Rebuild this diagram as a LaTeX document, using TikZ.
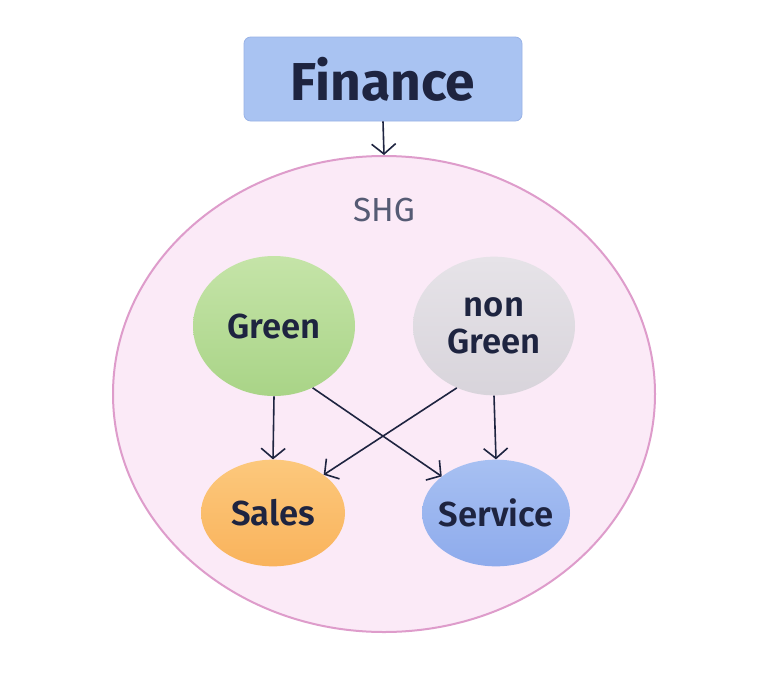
\documentclass[tikz,border=0pt]{standalone}
\usepackage{fontspec}
\setmainfont{Fira Sans}
\newfontfamily\semifont{Fira Sans SemiBold}
\usetikzlibrary{arrows.meta,shapes.geometric}
\definecolor{ink}{HTML}{1E2440}
\definecolor{finfill}{HTML}{A9C3F2}
\definecolor{finedge}{HTML}{98B2E6}
\definecolor{shgfill}{HTML}{FBEAF7}
\definecolor{shgedge}{HTML}{DE9CCB}
\definecolor{shgtext}{HTML}{555B74}
\definecolor{greentop}{HTML}{C5E4A8}
\definecolor{greenbot}{HTML}{A9D487}
\definecolor{graytop}{HTML}{E6E3E8}
\definecolor{graybot}{HTML}{D8D4DB}
\definecolor{salestop}{HTML}{FCC87C}
\definecolor{salesbot}{HTML}{F9B35C}
\definecolor{servtop}{HTML}{A7C0F2}
\definecolor{servbot}{HTML}{8EABEC}
\begin{document}
\begin{tikzpicture}[x=0.75pt,y=-0.75pt,
  bubble/.style={ellipse, draw=none, inner sep=0pt},
  btext/.style={font=\semifont\fontsize{26}{28}\selectfont, text=ink, align=center, inner sep=0pt},
  link/.style={draw=ink, line width=1.2pt, -{Straight Barb[length=7.5pt,width=18pt,line width=1.2pt]}}]
\useasboundingbox (0,0) rectangle (768,690);
\fill[white] (0,0) rectangle (768,690);
\node[rectangle, rounded corners=5pt, fill=finfill, draw=finedge, line width=0.6pt,
  minimum width=208.5pt, minimum height=63pt, inner sep=0pt, text=ink,
  font=\bfseries\fontsize{40}{42}\selectfont] (fin) at (383,79) {Finance};
\node[ellipse, fill=shgfill, draw=shgedge, line width=1.5pt,
  minimum width=406.5pt, minimum height=357pt, inner sep=0pt] (shg) at (384,394) {};
\node[text=shgtext, font=\fontsize{25}{27}\selectfont] (shglabel) at (384,210) {SHG};
\node[bubble, top color=greentop, bottom color=greenbot, minimum width=121.5pt, minimum height=105pt] (green) at (274,326) {};
\node[btext] (greenlabel) at (green.center) {Green};
\node[bubble, top color=graytop, bottom color=graybot, minimum width=121.5pt, minimum height=104pt] (nongreen) at (494,326) {};
\node[btext] (nongreenlabel) at (nongreen.center) {non\\[0pt]Green};
\node[bubble, top color=salestop, bottom color=salesbot, minimum width=108pt, minimum height=80pt] (sales) at (273,513) {};
\node[btext] (saleslabel) at (sales.center) {Sales};
\node[bubble, top color=servtop, bottom color=servbot, minimum width=111pt, minimum height=80pt] (service) at (496,513) {};
\node[btext] (servicelabel) at (service.center) {Service};
\draw[link] (fin.south) -- (shg.north);
\draw[link] (green.south) -- (sales.north);
\draw[link] (nongreen.south) -- (service.north);
\draw[link] (green.-58) -- (service.146);
\draw[link] (nongreen.-121) -- (sales.37);
\end{tikzpicture}
\end{document}
